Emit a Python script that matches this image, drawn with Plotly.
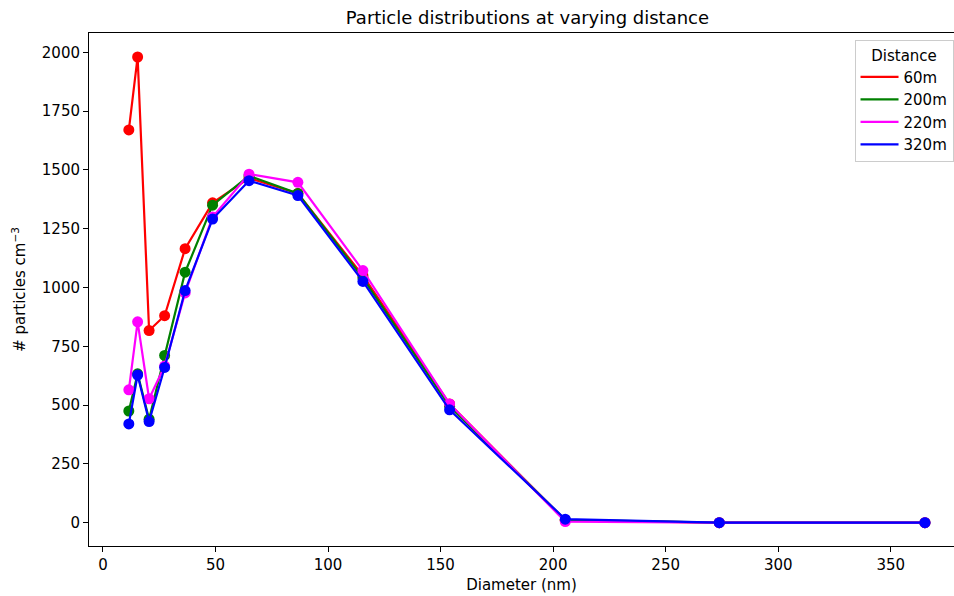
import plotly.graph_objects as go

diameter = [11.5, 15.4, 20.5, 27.4, 36.5, 48.7, 64.9, 86.6, 115.5, 154.0, 205.4, 273.8, 365.2]

d60 = [1670, 1980, 817, 880, 1165, 1360, 1465, 1400, 1050, 505, 10, 0, 0]
d200 = [475, 633, 440, 711, 1065, 1350, 1475, 1400, 1040, 495, 12, 0, 0]
d220 = [565, 854, 527, 666, 977, 1300, 1482, 1447, 1072, 505, 5, 0, 0]
d320 = [420, 628, 430, 660, 987, 1291, 1454, 1391, 1026, 480, 15, 0, 0]

series = [("60m", d60, "#ff0000"), ("200m", d200, "#008000"),
          ("220m", d220, "#ff00ff"), ("320m", d320, "#0000ff")]

fig = go.Figure()
for name, vals, col in series:
    fig.add_trace(go.Scatter(x=diameter, y=vals, mode="lines+markers", name=name,
                             line=dict(color=col, width=2.2), marker=dict(color=col, size=11),
                             showlegend=False))
for name, vals, col in series:
    fig.add_trace(go.Scatter(x=[None], y=[None], mode="lines", name=name,
                             line=dict(color=col, width=2.2), showlegend=True))

font = "DejaVu Sans"
fig.update_layout(
    width=954, height=596,
    margin=dict(l=89, r=0, t=33, b=50),
    plot_bgcolor="white", paper_bgcolor="white",
    font=dict(family=font, size=15, color="black"),
    title=dict(text="Particle distributions at varying distance", x=0.5529, xanchor="center",
               y=1 - 18/596, yanchor="middle", font=dict(size=18)),
    legend=dict(x=0.885, y=0.986, xanchor="left", yanchor="top",
                bordercolor="#cccccc", borderwidth=1, bgcolor="white",
                title=dict(text="Distance", side="top center", font=dict(size=15)),
                font=dict(size=15), tracegroupgap=0, itemwidth=38),
)
fig.update_xaxes(range=[-6.2, 378.1], showgrid=False, zeroline=False,
                 showline=True, linecolor="black", linewidth=1, mirror=True,
                 ticks="outside", ticklen=5, tickcolor="black",
                 tickfont=dict(size=15),
                 tickvals=[0, 50, 100, 150, 200, 250, 300, 350],
                 title=dict(text="Diameter (nm)", standoff=6, font=dict(size=15)))
fig.update_yaxes(range=[-99, 2082], showgrid=False, zeroline=False,
                 showline=True, linecolor="black", linewidth=1,
                 ticks="outside", ticklen=5, tickcolor="black",
                 tickfont=dict(size=15),
                 tickvals=[0, 250, 500, 750, 1000, 1250, 1500, 1750, 2000],
                 title=dict(text="# particles cm<sup>−3</sup>", standoff=12, font=dict(size=15)))
fig.write_html("out.html")
